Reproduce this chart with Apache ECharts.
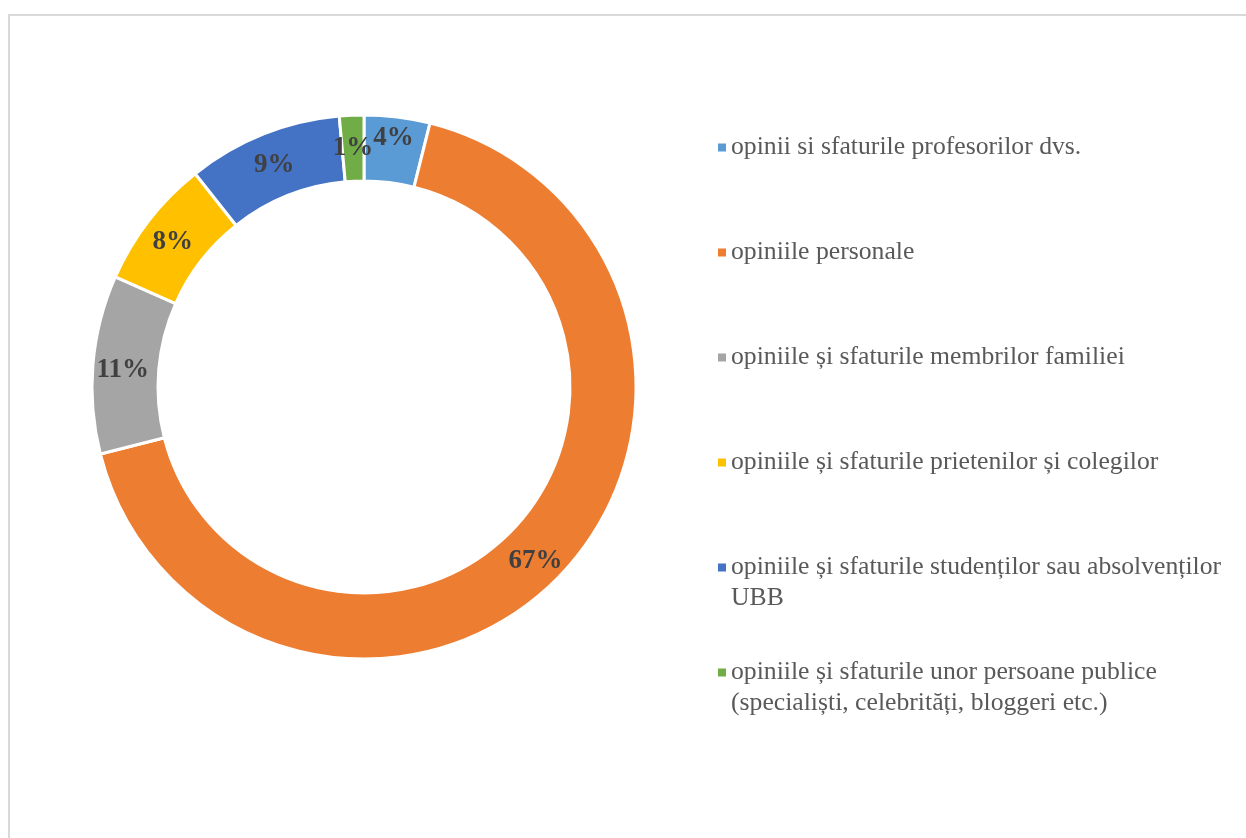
<!DOCTYPE html>
<html>
<head>
<meta charset="utf-8">
<script src="https://cdn.jsdelivr.net/npm/echarts@6/dist/echarts.min.js"></script>
<style>
html,body{margin:0;padding:0;background:#fff;width:1246px;height:838px;overflow:hidden;}
#frame{position:absolute;left:8px;top:14px;width:1300px;height:900px;border:2px solid #d9d9d9;box-sizing:border-box;}
#chart{position:absolute;left:0;top:0;width:1246px;height:838px;}
</style>
</head>
<body>
<div id="frame"></div>
<div id="chart"></div>
<script>
const categories = [
  'opinii si sfaturile profesorilor dvs.',
  'opiniile personale',
  'opiniile și sfaturile membrilor familiei',
  'opiniile și sfaturile prietenilor și colegilor',
  'opiniile și sfaturile studenților sau absolvenților UBB',
  'opiniile și sfaturile unor persoane publice (specialiști, celebrități, bloggeri etc.)'
];
const values = [3.9, 67.1, 10.6, 7.7, 9.2, 1.45];
const colors = ['#5B9BD5', '#ED7D31', '#A5A5A5', '#FFC000', '#4472C4', '#70AD47'];

const chart = echarts.init(document.getElementById('chart'));
const LH = 31;
chart.setOption({
  animation: false,
  legend: {
    orient: 'vertical',
    left: 713,
    top: 96,
    itemWidth: 8,
    itemHeight: 8,
    itemGap: 12,
    icon: 'rect',
    itemStyle: { borderWidth: 0 },
    data: categories,
    formatter: function (name) {
      const s = name.replace(' UBB', '\nUBB').replace(' (specialiști', '\n(specialiști');
      const parts = s.split('\n');
      return ' \n' + parts[0] + '\n' + (parts[1] || ' ');
    },
    textStyle: {
      fontFamily: '"Liberation Serif", "Times New Roman", serif',
      fontSize: 25.7,
      color: '#595959',
      lineHeight: LH
    }
  },
  series: [{
    type: 'pie',
    center: [364, 387],
    radius: [206, 272],
    startAngle: 90,
    clockwise: true,
    avoidLabelOverlap: false,
    itemStyle: { borderColor: '#fff', borderWidth: 3 },
    label: {
      show: true,
      position: 'inside',
      formatter: function (p) { return Math.round(p.percent) + '%'; },
      fontFamily: '"Liberation Serif", "Times New Roman", serif',
      fontWeight: 'bold',
      fontSize: 27,
      color: '#404040',
      offset: [0, 3]
    },
    labelLine: { show: false },
    emphasis: { disabled: true },
    data: categories.map((c, i) => {
      const d = { name: c, value: values[i], itemStyle: { color: colors[i] } };
      if (i === 0) d.label = { offset: [0, -9] };
      return d;
    })
  }]
});
</script>
</body>
</html>
